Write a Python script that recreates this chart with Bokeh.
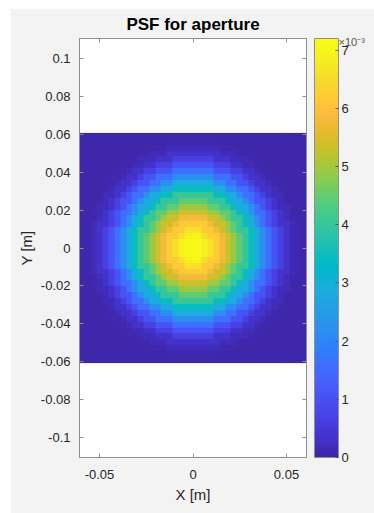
import numpy as np
from bokeh.plotting import figure
from bokeh.models import (LinearColorMapper, ColorBar, FixedTicker, LinearAxis,
                          Title, CustomJSTickFormatter, Range1d)
from bokeh.embed import file_html
from bokeh.resources import INLINE

# ---------------- data ----------------
title_text = "PSF for aperture"
x_label = "X [m]"
y_label = "Y [m]"
x_ticks = [-0.05, 0, 0.05]
y_ticks = [-0.1, -0.08, -0.06, -0.04, -0.02, 0, 0.02, 0.04, 0.06, 0.08, 0.1]
cbar_ticks = [0, 1, 2, 3, 4, 5, 6, 7]
cbar_scale_text = "×10⁻³"
cbar_low, cbar_high = 0.0, 7.2          # colour scale, in units of 1e-3
x_limits = (-0.0607, 0.0607)
y_limits = (-0.1105, 0.1105)
aperture_half_width = 0.0607             # m, half width of the PSF image
grid_cells = 39                          # cells across the image
# PSF value (x 1e-3) of each ring, ring k = cells at distance ~k cells from centre
ring_index = list(range(20))
psf_ring_values = [7.15, 7.08, 6.9, 6.6, 6.2, 5.8, 5.35, 4.9, 4.45, 4.0,
                   3.45, 2.85, 2.2, 1.6, 1.05, 0.65, 0.35, 0.17, 0.08, 0.03]

# parula colormap anchors
parula = [
    (0.2422, 0.1504, 0.6603), (0.2578, 0.1818, 0.7511), (0.2706, 0.2147, 0.8364),
    (0.2783, 0.2559, 0.8991), (0.2813, 0.3006, 0.9414), (0.2795, 0.3447, 0.9717),
    (0.2699, 0.3892, 0.9906), (0.2440, 0.4358, 0.9988), (0.1963, 0.4847, 0.9892),
    (0.1786, 0.5289, 0.9682), (0.1687, 0.5703, 0.9359), (0.1460, 0.6091, 0.9079),
    (0.1248, 0.6459, 0.8883), (0.0952, 0.6798, 0.8598), (0.0297, 0.7082, 0.8163),
    (0.0067, 0.7312, 0.7660), (0.0964, 0.7500, 0.7120), (0.1717, 0.7670, 0.6554),
    (0.2161, 0.7843, 0.5923), (0.2906, 0.7973, 0.5188), (0.3909, 0.8029, 0.4354),
    (0.5044, 0.7993, 0.3480), (0.6174, 0.7876, 0.2612), (0.7242, 0.7698, 0.1910),
    (0.8203, 0.7498, 0.1535), (0.9035, 0.7330, 0.1774), (0.9728, 0.7298, 0.2394),
    (0.9970, 0.7659, 0.2199), (0.9892, 0.8136, 0.1885), (0.9676, 0.8639, 0.1643),
    (0.9597, 0.9135, 0.1423), (0.9691, 0.9606, 0.1064), (0.9769, 0.9839, 0.0805),
]

# ---------------- build palette & image ----------------
anchors = np.array(parula)
t = np.linspace(0, 1, len(anchors))
tt = np.linspace(0, 1, 256)
rgb = np.stack([np.interp(tt, t, anchors[:, i]) for i in range(3)], axis=1)
palette = ["#%02x%02x%02x" % tuple(int(round(c * 255)) for c in row) for row in rgb]

centres = (np.arange(grid_cells) - (grid_cells - 1) / 2)
gx, gy = np.meshgrid(centres, centres)
k = np.clip(np.rint(np.hypot(gx, gy)).astype(int), 0, len(ring_index) - 1)
img = np.array(psf_ring_values)[k]

FONT = "Liberation Sans"
GRAY_TXT = "#262626"
LINE = "#8f8f8f"
BG = "#f3f3f3"

p = figure(frame_width=227, frame_height=419,
           x_range=Range1d(*x_limits), y_range=Range1d(*y_limits),
           output_backend="svg", toolbar_location=None,
           title=title_text, min_border_left=69, min_border_right=68,
           min_border_top=30, min_border_bottom=56)
p.margin = (8, 0, 0, 10)
p.background_fill_color = "white"
p.border_fill_color = BG
p.outline_line_color = LINE
p.grid.visible = False

p.title.align = "center"
p.title.text_font = FONT
p.title.text_font_size = "17px"
p.title.text_font_style = "bold"
p.title.text_color = "black"
p.title.standoff = 9

# colour-scale multiplier, drawn just above the colour bar
scale_title = Title(text=cbar_scale_text, align="left", offset=259, standoff=-18,
                    text_font=FONT, text_font_size="11px", text_font_style="normal",
                    text_color="#555555")
p.add_layout(scale_title, "above")

mapper = LinearColorMapper(palette=palette, low=cbar_low, high=cbar_high)
p.image(image=[img], x=-aperture_half_width, y=-aperture_half_width,
        dw=2 * aperture_half_width, dh=2 * aperture_half_width, color_mapper=mapper)

fmt = CustomJSTickFormatter(code="""
let s = tick.toFixed(2);
if (s.indexOf('.') >= 0) { s = s.replace(/0+$/, '').replace(/\\.$/, ''); }
if (s === '-0') s = '0';
return s;
""")
blank_fmt = CustomJSTickFormatter(code="return '';")

def style_axis(ax):
    ax.axis_line_color = LINE
    ax.major_tick_line_color = LINE
    ax.major_tick_in = 4
    ax.major_tick_out = 0
    ax.minor_tick_line_color = None
    ax.major_label_text_font = FONT
    ax.major_label_text_font_size = "13px"
    ax.major_label_text_color = GRAY_TXT
    ax.axis_label_text_font = FONT
    ax.axis_label_text_font_size = "15px"
    ax.axis_label_text_font_style = "normal"
    ax.axis_label_text_color = GRAY_TXT

xa = p.xaxis[0]
xa.ticker = FixedTicker(ticks=x_ticks)
xa.formatter = fmt
xa.axis_label = x_label
style_axis(xa)
xa.major_label_standoff = 12
xa.axis_label_standoff = 4

ya = p.yaxis[0]
ya.ticker = FixedTicker(ticks=y_ticks)
ya.formatter = fmt
ya.axis_label = y_label
style_axis(ya)
ya.major_label_standoff = 9
ya.axis_label_standoff = 3

top_ax = LinearAxis(ticker=FixedTicker(ticks=x_ticks), formatter=blank_fmt)
style_axis(top_ax)
p.add_layout(top_ax, "above")

right_ax = LinearAxis(ticker=FixedTicker(ticks=y_ticks), formatter=blank_fmt)
style_axis(right_ax)
p.add_layout(right_ax, "right")

# invisible spacer axis: leaves the gap between the frame and the colour bar
spacer_ax = LinearAxis(ticker=FixedTicker(ticks=y_ticks), formatter=blank_fmt)
style_axis(spacer_ax)
spacer_ax.axis_line_color = None
spacer_ax.major_tick_line_color = None
spacer_ax.major_tick_in = 0
spacer_ax.major_tick_out = 8
p.add_layout(spacer_ax, "right")

cb = ColorBar(color_mapper=mapper, ticker=FixedTicker(ticks=cbar_ticks),
              width=24, height=419, padding=0, margin=0,
              bar_line_color=LINE, border_line_color=None,
              background_fill_color=None,
              major_tick_in=3, major_tick_out=0, major_tick_line_color="#555555",
              minor_tick_line_color=None,
              major_label_text_font=FONT, major_label_text_font_size="13px",
              major_label_text_color=GRAY_TXT, label_standoff=3)
p.add_layout(cb, "right")

open("out.html", "w").write(file_html(p, INLINE))
